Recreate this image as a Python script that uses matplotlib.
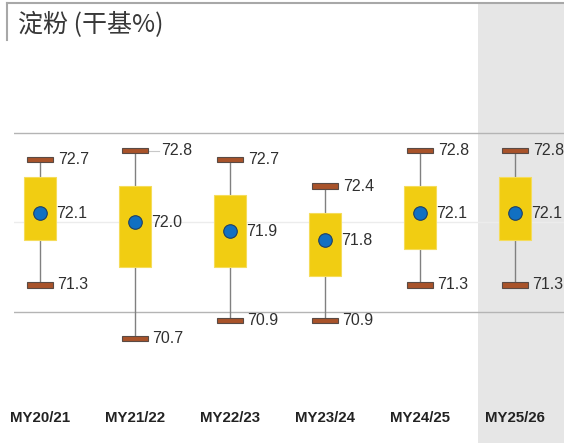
import matplotlib
matplotlib.use('Agg')
import matplotlib.pyplot as plt
from matplotlib.lines import Line2D
from matplotlib import transforms

plt.rcParams['font.family'] = ['Liberation Sans', 'Noto Sans CJK SC', 'DejaVu Sans']

# data
categories = ['MY20/21', 'MY21/22', 'MY22/23', 'MY23/24', 'MY24/25', 'MY25/26']
max_vals = [72.7, 72.8, 72.7, 72.4, 72.8, 72.8]
q3_vals = [72.5, 72.4, 72.3, 72.1, 72.4, 72.5]
mean_vals = [72.1, 72.0, 71.9, 71.8, 72.1, 72.1]
q1_vals = [71.8, 71.5, 71.5, 71.4, 71.7, 71.8]
min_vals = [71.3, 70.7, 70.9, 70.9, 71.3, 71.3]
title = '淀粉 (干基%)'

W, H = 564, 443
fig = plt.figure(figsize=(W / 100, H / 100), dpi=100)
ax = fig.add_axes([14 / W, 0, 1 - 14 / W, 440 / H])
ax.set_xlim(-0.2737, 5.5158)
ax.set_ylim(69.532, 74.448)
ax.axis('off')

x = list(range(len(categories)))

# shaded forecast column
ax.axvspan(4.61, 5.6, color='#e6e6e6', zorder=0, lw=0)

# gridlines
for yv, c in [(71, '#b4b4b4'), (72, '#ececec'), (73, '#b4b4b4')]:
    ax.axhline(yv, color=c, lw=1, zorder=1)

# whiskers
ax.vlines(x, min_vals, max_vals, color='#808080', lw=1, zorder=2)

# boxes
heights = [a - b for a, b in zip(q3_vals, q1_vals)]
ax.bar(x, heights, bottom=q1_vals, width=0.34, color='#f1cd12',
       edgecolor='#f5dc5a', lw=0.8, zorder=3)

# caps
cap_h = 0.065
for vals in (max_vals, min_vals):
    ax.bar(x, [cap_h] * len(x), bottom=[v - cap_h / 2 for v in vals],
           width=0.28, color='#a9532a', edgecolor='#5a4a44', lw=0.8, zorder=3)

# means
ax.scatter(x, mean_vals, s=95, color='#1170c2', edgecolors='#1d3f66',
           linewidths=0.8, zorder=4)

txt = dict(fontsize=11.5, color='#303030', va='center', ha='left')
for i in x:
    dx = 0.19
    if i == 1:  # label pushed right with leader line
        dx = 0.27
        ax.plot([i + 0.14, i + 0.25], [max_vals[i]] * 2, color='#c8c8c8',
                lw=0.8, zorder=2)
    ax.text(i + dx, max_vals[i], f'{max_vals[i]:.1f}', **txt)
    ax.text(i + 0.17, mean_vals[i], f'{mean_vals[i]:.1f}', **txt)
    ax.text(i + 0.18, min_vals[i], f'{min_vals[i]:.1f}', **txt)

trans = transforms.blended_transform_factory(ax.transData, ax.transAxes)
for i, c in enumerate(categories):
    ax.text(i, 25 / 440, c, transform=trans, ha='center', va='center',
            fontsize=10.8, fontweight='bold', color='#222222')

# frame pieces and title
fig.add_artist(Line2D([7 / W, 1], [1 - 3 / H] * 2, color='#a8a8a8', lw=1.5))
fig.add_artist(Line2D([7 / W, 7 / W], [1 - 3 / H, 1 - 40 / H],
                      color='#a8a8a8', lw=1.5))
fig.text(18 / W, 1 - 25 / H, title, fontsize=18, color='#383838',
         fontweight='medium', va='center', ha='left',
         family=['Noto Sans CJK SC', 'DejaVu Sans'])

fig.savefig('out.png', dpi=100)
